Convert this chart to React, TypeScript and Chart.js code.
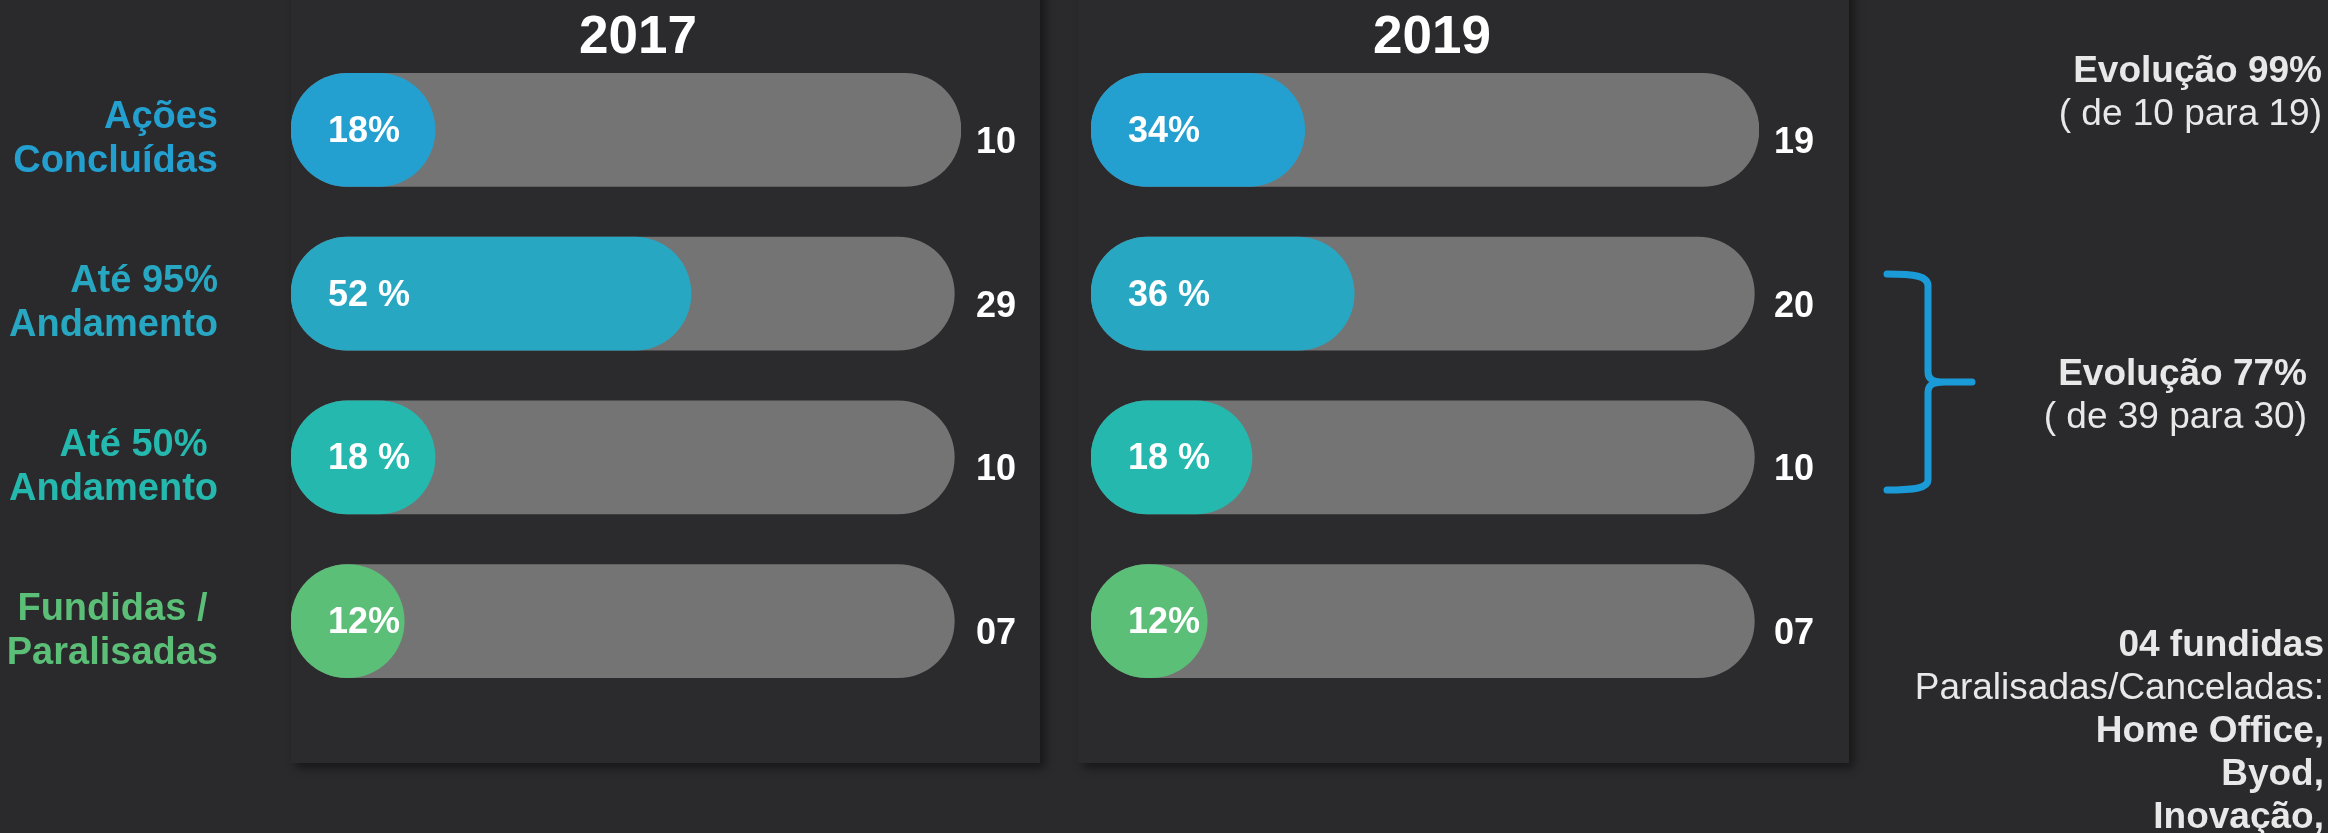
import React, { useEffect, useRef } from "react";
import { Chart, registerables } from "chart.js";

Chart.register(...registerables);

// ---------- data ----------
const categories: string[][] = [
  ["Ações", "Concluídas"],
  ["Até 95%", "Andamento"],
  ["Até 50% ", "Andamento"],
  ["Fundidas / ", "Paralisadas"],
];
const categoryColors = ["#23a0d0", "#27a7c2", "#25b8ae", "#5bbf78"];
const years = ["2017", "2019"];

// bar lengths (axis 0..100, track = full bar)
const track2017 = [100, 99, 99, 99];
const track2019 = [100, 99.3, 99.3, 99.3];
const fill2017 = [21.5, 59.7, 21.5, 16.9];
const fill2019 = [32.0, 39.4, 24.1, 17.4];

const pctLabels2017 = ["18%", "52 %", "18 %", "12%"];
const pctLabels2019 = ["34%", "36 %", "18 %", "12%"];
const counts2017 = ["10", "29", "10", "07"];
const counts2019 = ["19", "20", "10", "07"];

const noteEvol1 = ["Evolução 99%", "( de 10 para 19)"];
const noteEvol2 = ["Evolução 77%", "( de 39 para 30)"];
const noteFund = ["04 fundidas", "Paralisadas/Canceladas:", "Home Office,", "Byod,", "Inovação,"];
const noteFundBold = [true, false, true, true, true];

const FONT = "'Liberation Sans', Arial, Helvetica, sans-serif";
const BG = "#2a2a2c";
const PANEL = "#2b2b2e";
const TRACK = "#747474";

function makeTextPlugin(pct: string[], counts: string[]) {
  return {
    id: "barTexts",
    afterDatasetsDraw(chart: any) {
      const { ctx, chartArea } = chart;
      const meta = chart.getDatasetMeta(0);
      const xs = chart.scales.x;
      ctx.save();
      ctx.fillStyle = "#ffffff";
      ctx.font = `bold 36px ${FONT}`;
      ctx.textAlign = "left";
      ctx.textBaseline = "middle";
      meta.data.forEach((bar: any, i: number) => {
        ctx.fillText(pct[i], xs.getPixelForValue(0) + 37, bar.y + 2);
        ctx.fillText(counts[i], chartArea.right + 15, bar.y + 13);
      });
      ctx.restore();
    },
  };
}

type PanelProps = {
  left: number;
  width: number;
  padLeft: number;
  padRight: number;
  track: number[];
  fill: number[];
  pct: string[];
  counts: string[];
  showAxis: boolean;
};

function BarPanel(p: PanelProps) {
  const ref = useRef<HTMLCanvasElement | null>(null);
  useEffect(() => {
    if (!ref.current) return;
    Chart.defaults.font.family = FONT;
    const chart = new Chart(ref.current, {
      type: "bar",
      data: {
        labels: categories,
        datasets: [
          {
            data: p.fill,
            backgroundColor: categoryColors,
            grouped: false,
            barThickness: 113,
            borderRadius: 60,
            borderSkipped: false,
            order: 0,
          } as any,
          {
            data: p.track,
            backgroundColor: TRACK,
            grouped: false,
            barThickness: 113,
            borderRadius: 60,
            borderSkipped: false,
            order: 1,
          } as any,
        ],
      },
      options: {
        indexAxis: "y",
        responsive: false,
        animation: false,
        layout: { padding: { left: p.padLeft, right: p.padRight, top: 48, bottom: 60 } },
        plugins: {
          legend: { display: false },
          tooltip: { enabled: false },
          title: { display: false },
        },
        scales: {
          x: { display: false, min: 0, max: 100 },
          y: {
            display: p.showAxis,
            grid: { display: false },
            border: { display: false },
            ticks: {
              color: (c: any) => categoryColors[c.index],
              font: { size: 38, weight: "bold", lineHeight: 1.16, family: FONT },
              padding: 65,
              labelOffset: 10,
              autoSkip: false,
            },
            afterFit: (s: any) => {
              if (p.showAxis) {
                s.width = 291;
              } else {
                s.width = 0;
              }
              s.paddingTop = 0;
              s.paddingBottom = 0;
            },
          } as any,
        },
      },
      plugins: [makeTextPlugin(p.pct, p.counts)],
    });
    return () => chart.destroy();
  }, []);
  return (
    <canvas
      ref={ref}
      width={p.width}
      height={763}
      style={{ position: "absolute", left: p.left, top: 0, width: p.width, height: 763 }}
    />
  );
}

function Note(props: { top: number; right: number; lines: string[]; bold: boolean[] }) {
  return (
    <div
      style={{
        position: "absolute",
        top: props.top,
        right: props.right,
        textAlign: "right",
        fontFamily: FONT,
        fontSize: 37,
        lineHeight: "43px",
        color: "#e8e8e8",
        whiteSpace: "nowrap",
      }}
    >
      {props.lines.map((t, i) => (
        <div key={i} style={{ fontWeight: props.bold[i] ? "bold" : "normal" }}>
          {t}
        </div>
      ))}
    </div>
  );
}

export default function App() {
  useEffect(() => {
    document.body.style.margin = "0";
    document.body.style.background = BG;
  }, []);
  const panelStyle = (left: number, width: number): React.CSSProperties => ({
    position: "absolute",
    left,
    top: -20,
    width,
    height: 783,
    background: PANEL,
    boxShadow: "5px 5px 9px rgba(0,0,0,0.45)",
  });
  const titleStyle = (cx: number): React.CSSProperties => ({
    position: "absolute",
    left: cx - 150,
    width: 300,
    top: 5,
    textAlign: "center",
    fontFamily: FONT,
    fontWeight: "bold",
    fontSize: 53,
    lineHeight: "60px",
    color: "#ffffff",
  });
  return (
    <div
      style={{
        position: "absolute",
        left: 0,
        top: 0,
        width: 2328,
        height: 833,
        background: BG,
        overflow: "hidden",
      }}
    >
      <div style={panelStyle(291, 749)} />
      <div style={panelStyle(1078, 771)} />
      <div style={titleStyle(638)}>{years[0]}</div>
      <div style={titleStyle(1432)}>{years[1]}</div>
      <BarPanel
        left={0}
        width={1040}
        padLeft={0}
        padRight={79}
        track={track2017}
        fill={fill2017}
        pct={pctLabels2017}
        counts={counts2017}
        showAxis={true}
      />
      <BarPanel
        left={1078}
        width={771}
        padLeft={13}
        padRight={90}
        track={track2019}
        fill={fill2019}
        pct={pctLabels2019}
        counts={counts2019}
        showAxis={false}
      />
      <svg
        width={2328}
        height={833}
        style={{ position: "absolute", left: 0, top: 0, pointerEvents: "none" }}
      >
        <path
          d="M1887,274 C1915,274 1928,276 1928,286 L1928,372 C1928,380 1934,382 1945,382 L1972,382 M1945,382 C1934,382 1928,384 1928,392 L1928,480 C1928,488 1915,490 1887,490"
          fill="none"
          stroke="#1b9ad8"
          strokeWidth={7}
          strokeLinecap="round"
          strokeLinejoin="round"
        />
      </svg>
      <Note top={48} right={6} lines={noteEvol1} bold={[true, false]} />
      <Note top={351} right={21} lines={noteEvol2} bold={[true, false]} />
      <Note top={622} right={4} lines={noteFund} bold={noteFundBold} />
    </div>
  );
}
